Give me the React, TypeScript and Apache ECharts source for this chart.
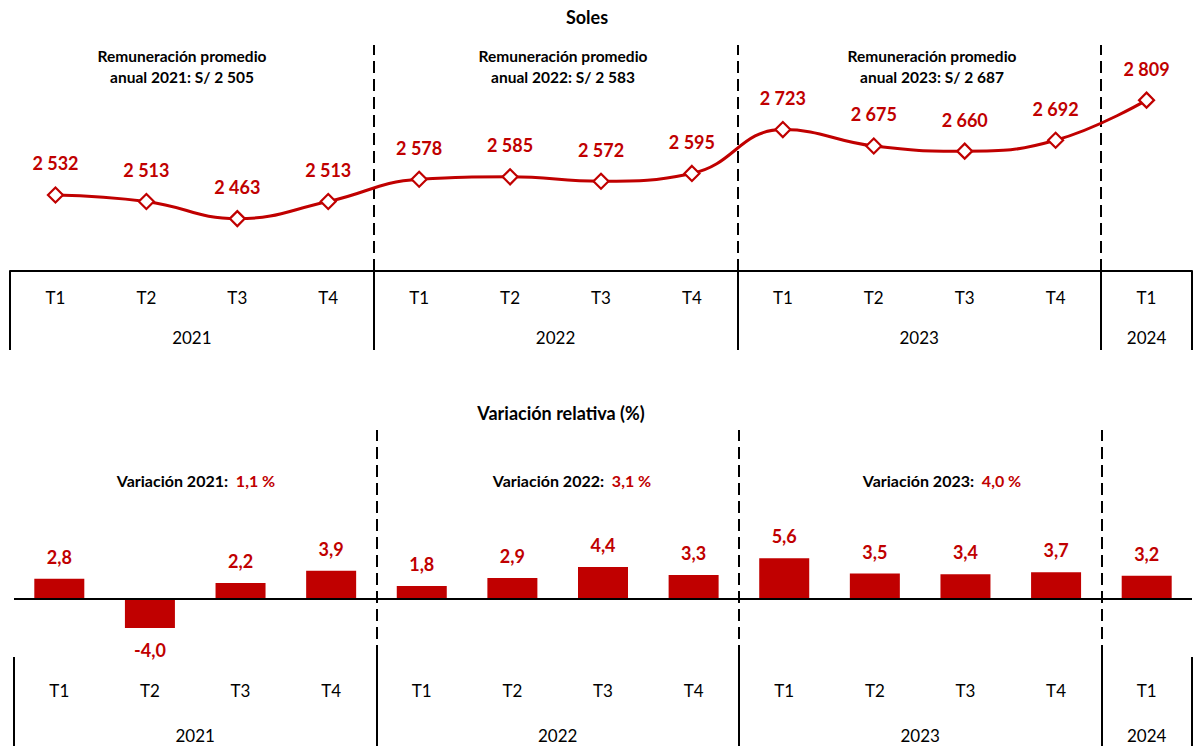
import React, { useEffect, useRef } from "react";
import * as echarts from "echarts";

const quarters = ["T1", "T2", "T3", "T4", "T1", "T2", "T3", "T4", "T1", "T2", "T3", "T4", "T1"];
const years = ["2021", "2022", "2023", "2024"];
const quartersPerYear = [4, 4, 4, 1];
const soles = [2532, 2513, 2463, 2513, 2578, 2585, 2572, 2595, 2723, 2675, 2660, 2692, 2809];
const variacion = [2.8, -4.0, 2.2, 3.9, 1.8, 2.9, 4.4, 3.3, 5.6, 3.5, 3.4, 3.7, 3.2];
const annualYears = ["2021", "2022", "2023"];
const annualAvg = [2505, 2583, 2687];
const annualVar = [1.1, 3.1, 4.0];

const RED = "#C00000";
const FONT = "Lato";

const fmtThousands = (v: number) => String(Math.round(v)).replace(/\B(?=(\d{3})+(?!\d))/g, " ");
const fmtDec = (v: number) => v.toFixed(1).replace(".", ",");

const boundaries: number[] = [0];
quartersPerYear.forEach((q) => boundaries.push(boundaries[boundaries.length - 1] + q));
const yearCenters = years.map((_, i) => (boundaries[i] + boundaries[i + 1]) / 2);
const innerBounds = boundaries.slice(1, boundaries.length - 1);
const total = boundaries[boundaries.length - 1];
const yearAt = (v: number) => {
  const i = yearCenters.findIndex((c) => Math.abs(c - v) < 1e-6);
  return i >= 0 ? years[i] : "";
};

export default function App() {
  const ref = useRef<HTMLDivElement>(null);
  useEffect(() => {
    if (!ref.current) return;
    const chart = echarts.init(ref.current, null, { renderer: "svg" });
    const axisLineStyle = { color: "#000", width: 2 };
    const dashStyle = { color: "#000", width: 2, type: [12, 6] };
    const topAnnX = [182, 563, 932];
    const botAnnX = [196, 572, 942];
    const graphic: any[] = [
      { type: "text", x: 587, y: 17, style: { text: "Soles", fontFamily: FONT, fontWeight: "bold", fontSize: 18, fill: "#000", align: "center", verticalAlign: "middle" } },
      { type: "text", x: 561, y: 413, style: { text: "Variación relativa (%)", fontFamily: FONT, fontWeight: "bold", fontSize: 18, fill: "#000", align: "center", verticalAlign: "middle" } },
    ];
    annualYears.forEach((y, i) => {
      graphic.push({
        type: "text",
        x: topAnnX[i],
        y: 45,
        style: {
          text: `Remuneración promedio\nanual ${y}: S/ ${fmtThousands(annualAvg[i])}`,
          fontFamily: FONT,
          fontWeight: "bold",
          fontSize: 15.5,
          lineHeight: 21,
          fill: "#000",
          align: "center",
          verticalAlign: "top",
        },
      });
      graphic.push({
        type: "text",
        x: botAnnX[i],
        y: 480,
        style: {
          text: `{a|Variación ${y}:}  {b|${fmtDec(annualVar[i])} %}`,
          fontFamily: FONT,
          fontWeight: "bold",
          fontSize: 16,
          align: "center",
          verticalAlign: "middle",
          rich: {
            a: { fontFamily: FONT, fontWeight: "bold", fontSize: 16, fill: "#000" },
            b: { fontFamily: FONT, fontWeight: "bold", fontSize: 16, fill: RED },
          },
        },
      });
    });

    const option: any = {
      animation: false,
      textStyle: { fontFamily: FONT },
      graphic,
      grid: [
        { left: 10, right: 2, top: 45, height: 226 },
        { left: 14, right: 2, top: 430, height: 227 },
      ],
      xAxis: [
        {
          gridIndex: 0, type: "category", data: quarters, position: "bottom",
          axisLine: { show: false }, axisTick: { show: false },
          axisLabel: { margin: 18, fontSize: 17, color: "#000", fontFamily: FONT },
        },
        {
          gridIndex: 0, type: "value", min: 0, max: total, position: "bottom",
          axisLine: { show: true, lineStyle: axisLineStyle },
          axisTick: { show: true, customValues: boundaries, length: 79, lineStyle: axisLineStyle },
          axisLabel: { customValues: yearCenters, formatter: (v: number) => yearAt(v), margin: 58, fontSize: 17, color: "#000", fontFamily: FONT },
          splitLine: { show: false },
        },
        {
          gridIndex: 1, type: "category", data: quarters, position: "bottom",
          axisLine: { show: false }, axisTick: { show: false },
          axisLabel: { margin: 25, fontSize: 17, color: "#000", fontFamily: FONT },
        },
        {
          gridIndex: 1, type: "value", min: 0, max: total, position: "bottom",
          axisLine: { show: false },
          axisTick: { show: true, customValues: boundaries, length: 95, lineStyle: axisLineStyle },
          axisLabel: { customValues: yearCenters, formatter: (v: number) => yearAt(v), margin: 69, fontSize: 17, lineHeight: 18, color: "#000", fontFamily: FONT },
          splitLine: { show: false },
        },
      ],
      yAxis: [
        { gridIndex: 0, type: "value", min: 2310, max: 2970, show: false, splitLine: { show: false } },
        { gridIndex: 1, type: "value", min: -8, max: 23.3, show: false, splitLine: { show: false } },
      ],
      series: [
        {
          type: "line", xAxisIndex: 0, yAxisIndex: 0, data: soles,
          smooth: 0.45,
          symbol: "diamond", symbolSize: 15,
          lineStyle: { color: RED, width: 3 },
          itemStyle: { color: "#fff", borderColor: RED, borderWidth: 2.2 },
          label: {
            show: true, position: "top", distance: 14, color: RED, fontWeight: "bold", fontSize: 18, fontFamily: FONT,
            formatter: (p: any) => fmtThousands(p.value),
          },
          z: 5,
        },
        {
          type: "line", xAxisIndex: 1, yAxisIndex: 0, data: [],
          markLine: {
            silent: true, symbol: "none", label: { show: false },
            lineStyle: dashStyle,
            data: innerBounds.map((b) => ({ xAxis: b })),
          },
        },
        {
          type: "bar", xAxisIndex: 2, yAxisIndex: 1,
          data: variacion.map((v) => ({ value: v, label: { position: v < 0 ? "bottom" : "top" } })),
          barWidth: 50,
          itemStyle: { color: RED },
          label: {
            show: true, distance: 13, color: RED, fontWeight: "bold", fontSize: 18, fontFamily: FONT,
            formatter: (p: any) => fmtDec(p.value),
          },
          markLine: {
            silent: true, symbol: "none", label: { show: false },
            lineStyle: { color: "#000", width: 2, type: "solid" },
            data: [{ yAxis: 0 }],
          },
        },
        {
          type: "line", xAxisIndex: 3, yAxisIndex: 1, data: [],
          markLine: {
            silent: true, symbol: "none", label: { show: false },
            lineStyle: dashStyle,
            data: innerBounds.map((b) => ({ xAxis: b })),
          },
        },
      ],
    };
    chart.setOption(option);
    return () => chart.dispose();
  }, []);
  return <div ref={ref} style={{ position: "absolute", left: 0, top: 0, width: 1194, height: 746 }} />;
}
